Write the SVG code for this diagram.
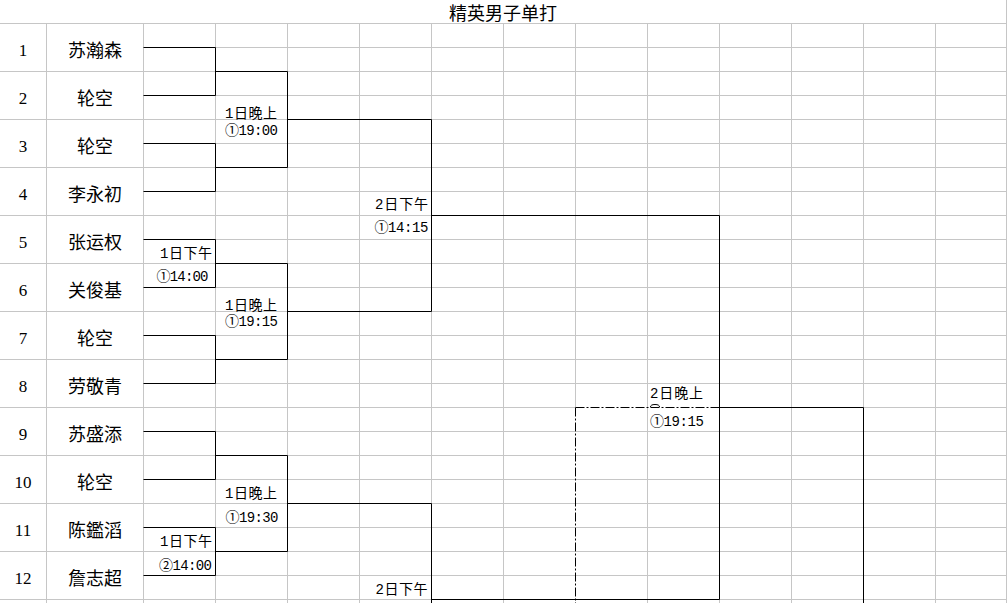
<svg xmlns="http://www.w3.org/2000/svg" width="1008" height="603" viewBox="0 0 1008 603">
<style>
.g{stroke:#c6c6c6;stroke-width:1;fill:none}
.b{stroke:#000;stroke-width:1;fill:none}
.w{stroke:#fff;stroke-width:1;fill:none}
.d{stroke:#000;stroke-width:1;fill:none;stroke-dasharray:9 2 2 2}
.num{font-family:"Liberation Serif","Noto Sans CJK SC",serif;font-size:17px;fill:#000;text-anchor:middle}
.nm{font-family:"Noto Sans CJK SC",sans-serif;font-size:18px;fill:#000;text-anchor:middle}
.lb{font-family:"Liberation Mono","Noto Sans CJK SC",monospace;font-size:14px;fill:#000}
.ttl{font-family:"Noto Sans CJK SC",sans-serif;font-size:18px;fill:#000;text-anchor:middle}
</style>
<rect x="0" y="0" width="1008" height="603" fill="#fff"/>
<g id="grid">
<path class="g" d="M0,23.5H1007 M0,71.5H1007 M0,119.5H1007 M0,167.5H1007 M0,215.5H1007 M0,263.5H1007 M0,311.5H1007 M0,359.5H1007 M0,407.5H1007 M0,455.5H1007 M0,503.5H1007 M0,551.5H1007 M0,599.5H1007"/>
<path class="g" d="M143,47.5H1007 M143,95.5H1007 M143,143.5H1007 M143,191.5H1007 M143,239.5H1007 M143,287.5H1007 M143,335.5H1007 M143,383.5H1007 M143,431.5H1007 M143,479.5H1007 M143,527.5H1007 M143,575.5H1007"/>
<path class="g" d="M46.5,23.5V603 M143.5,23.5V603 M215.5,23.5V603 M287.5,23.5V603 M359.5,23.5V603 M431.5,23.5V603 M503.5,23.5V603 M575.5,23.5V603 M647.5,23.5V603 M719.5,23.5V603 M791.5,23.5V603 M863.5,23.5V603 M935.5,23.5V603 M1006.5,0V603"/>
</g>
<text class="ttl" x="503" y="19.5">精英男子单打</text>
<g id="connectors">
<path class="b" d="M143.5,47.5H215.5V95.5H143.5 M215.5,71.5H287.5 M143.5,143.5H215.5V191.5H143.5 M215.5,167.5H287.5 M287.5,71.5V167.5 M287.5,119.5H431.5"/>
<path class="b" d="M143.5,239.5H215.5V287.5H143.5 M215.5,263.5H287.5 M143.5,335.5H215.5V383.5H143.5 M215.5,359.5H287.5 M287.5,263.5V359.5 M287.5,311.5H431.5"/>
<path class="b" d="M431.5,119.5V311.5 M431.5,215.5H719.5V599.5 M719.5,407.5H863.5V603"/>
<path class="b" d="M143.5,431.5H215.5V479.5H143.5 M215.5,455.5H287.5 M143.5,527.5H215.5V575.5H143.5 M215.5,551.5H287.5 M287.5,455.5V551.5 M287.5,503.5H431.5V603 M431.5,599.5H719.5"/>
<path class="w" d="M575.5,407.5H719 M575.5,407.5V603"/>
<path class="d" d="M575.5,407.5H719.5"/>
<path class="d" d="M575.5,407.5V603"/>
<path class="b" d="M650.5,407 A4.5,2.5 0 0 1 659.5,407" stroke-width="0.8"/>
</g>
<g id="p1"><text class="num" x="23" y="56">1</text><text class="nm" x="95" y="57">苏瀚森</text></g>
<g id="p2"><text class="num" x="23" y="104">2</text><text class="nm" x="95" y="105">轮空</text></g>
<g id="p3"><text class="num" x="23" y="152">3</text><text class="nm" x="95" y="153">轮空</text></g>
<g id="p4"><text class="num" x="23" y="200">4</text><text class="nm" x="95" y="201">李永初</text></g>
<g id="p5"><text class="num" x="23" y="248">5</text><text class="nm" x="95" y="249">张运权</text></g>
<g id="p6"><text class="num" x="23" y="296">6</text><text class="nm" x="95" y="297">关俊基</text></g>
<g id="p7"><text class="num" x="23" y="344">7</text><text class="nm" x="95" y="345">轮空</text></g>
<g id="p8"><text class="num" x="23" y="392">8</text><text class="nm" x="95" y="393">劳敬青</text></g>
<g id="p9"><text class="num" x="23" y="440">9</text><text class="nm" x="95" y="441">苏盛添</text></g>
<g id="p10"><text class="num" x="23" y="488">10</text><text class="nm" x="95" y="489">轮空</text></g>
<g id="p11"><text class="num" x="23" y="536">11</text><text class="nm" x="95" y="537">陈鑑滔</text></g>
<g id="p12"><text class="num" x="23" y="584">12</text><text class="nm" x="95" y="585">詹志超</text></g>
<g id="m1"><text class="lb" x="225" y="117.5" textLength="52">1日晚上</text><text class="lb" x="225" y="134.5" textLength="53">①19:00</text></g>
<g id="m2"><text class="lb" x="160" y="257.5" textLength="52">1日下午</text><text class="lb" x="156.5" y="281" textLength="52">①14:00</text></g>
<g id="m3"><text class="lb" x="225" y="309.5" textLength="52">1日晚上</text><text class="lb" x="225" y="326" textLength="53">①19:15</text></g>
<g id="m4"><text class="lb" x="225" y="498" textLength="52">1日晚上</text><text class="lb" x="225.5" y="521.5" textLength="53">①19:30</text></g>
<g id="m5"><text class="lb" x="160" y="546" textLength="52">1日下午</text><text class="lb" x="159" y="569.5" textLength="53">②14:00</text></g>
<g id="m6"><text class="lb" x="375" y="208.5" textLength="53">2日下午</text><text class="lb" x="374.5" y="232" textLength="54">①14:15</text></g>
<g id="m7"><text class="lb" x="650" y="398" textLength="53">2日晚上</text><text class="lb" x="650" y="426" textLength="54">①19:15</text></g>
<g id="m8"><text class="lb" x="375.5" y="594" textLength="52">2日下午</text></g>
</svg>
